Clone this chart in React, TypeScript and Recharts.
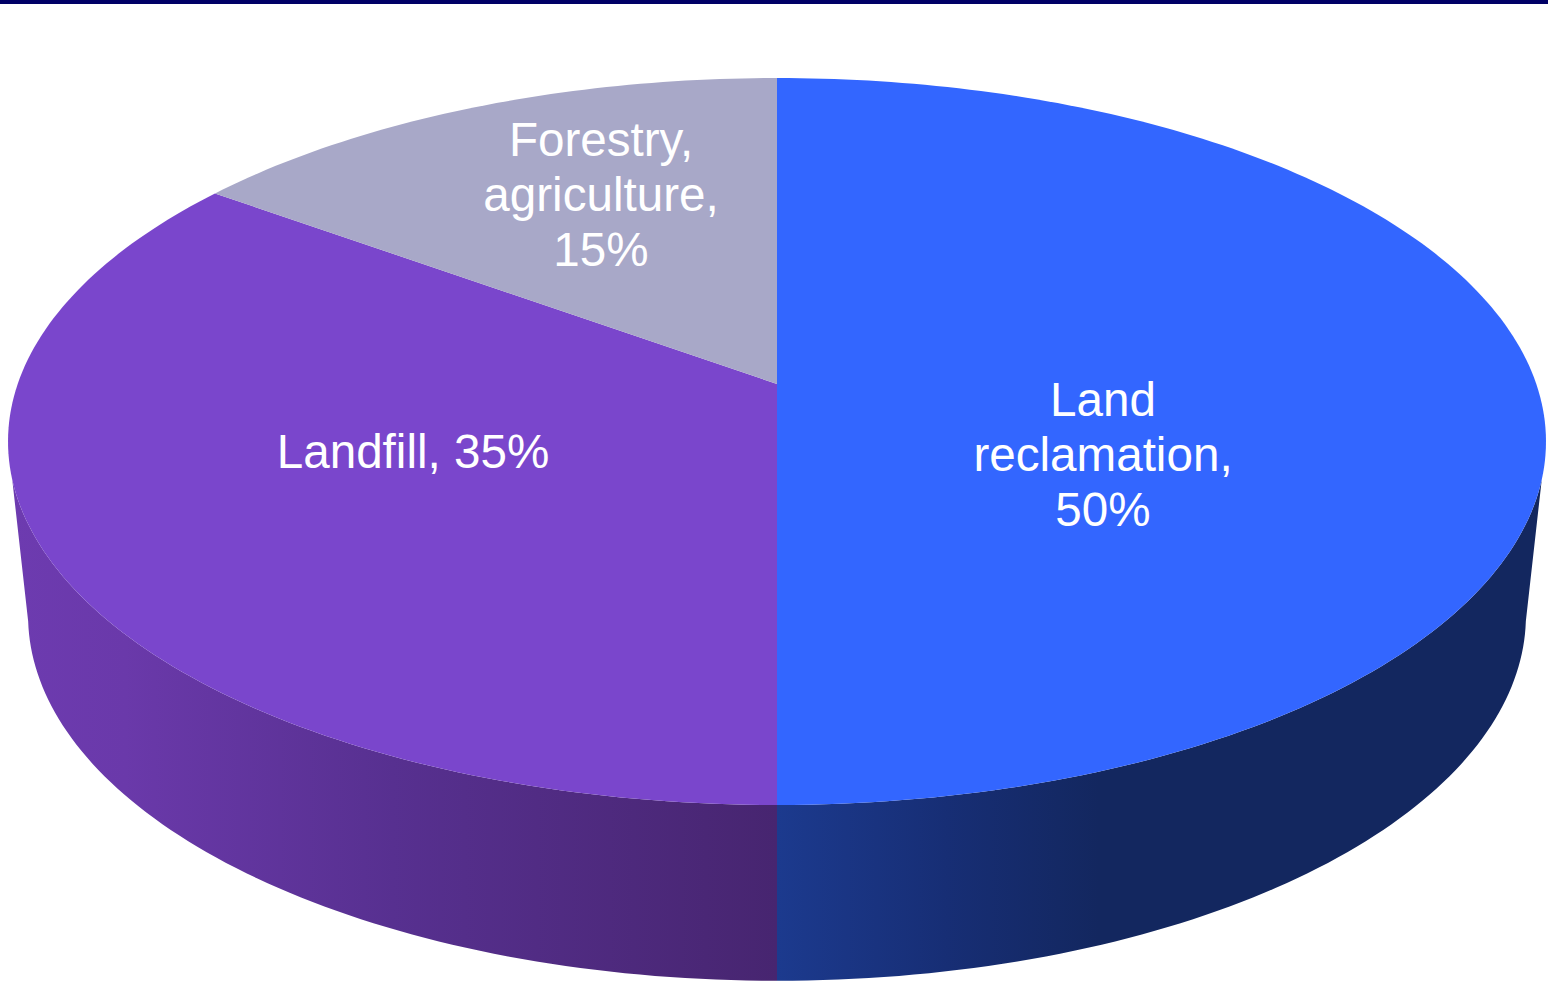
import { PieChart, Pie } from "recharts"

const categories = ["Land reclamation", "Landfill", "Forestry, agriculture"]
const shares = [50, 35, 15]
const labelLines = [["Land", "reclamation,", "50%"], ["Landfill, 35%"], ["Forestry,", "agriculture,", "15%"]]
const topColors = ["#3366ff", "#7a46cc", "#a8a8c8"]
const wallFills = ["url(#wallBlue)", "url(#wallPurple)", "none"]
const labelCenters = [1103, 413, 601]
const labelBaselines = [416, 468, 156]

const data = categories.map((name, i) => ({ name, value: shares[i], fill: topColors[i] }))

const WIDTH = 1548
const HEIGHT = 983
const LINE_HEIGHT = 55

// the pie is seen in perspective, so the circle is projected rather than just squashed
const TILT = 0.1582
const TOP_SQUASH = 0.4667
const BOTTOM = { cy: 557.6, radius: 739.5, squash: 0.4817 }
// where the side wall stops being visible, in degrees
const WALL_LEFT = -165
const WALL_RIGHT = -15

function project(cx: number, cy: number, r: number, squash: number, deg: number) {
  const a = (deg * Math.PI) / 180
  const w = 1 + TILT * Math.sin(a)
  return [cx + (r * Math.cos(a)) / w, cy - (r * squash * Math.sin(a)) / w]
}

function arcPoints(cx: number, cy: number, r: number, squash: number, from: number, to: number) {
  const steps = Math.max(2, Math.ceil(Math.abs(to - from)))
  const pts: string[] = []
  for (let i = 0; i <= steps; i++) {
    const [x, y] = project(cx, cy, r, squash, from + ((to - from) * i) / steps)
    pts.push(`${x.toFixed(2)} ${y.toFixed(2)}`)
  }
  return pts
}

function Slice(props: any) {
  const { cx, cy, outerRadius, startAngle, endAngle, fill, index } = props
  const top = arcPoints(cx, cy, outerRadius, TOP_SQUASH, startAngle, endAngle)
  const hi = Math.min(startAngle, WALL_RIGHT)
  const lo = Math.max(endAngle, WALL_LEFT)
  let wall = null
  if (hi > lo) {
    const upper = arcPoints(cx, cy, outerRadius, TOP_SQUASH, hi, lo)
    // the lower rim's tangent point sits a little closer to the horizontal
    const lowerHi = hi === WALL_RIGHT ? WALL_RIGHT + 5 : hi
    const lowerLo = lo === WALL_LEFT ? WALL_LEFT - 5 : lo
    const lower = arcPoints(cx, BOTTOM.cy, BOTTOM.radius, BOTTOM.squash, lowerLo, lowerHi)
    wall = <path d={`M${upper.join("L")}L${lower.join("L")}Z`} fill={wallFills[index]} />
  }
  return (
    <g>
      {wall}
      <path d={`M${cx} ${cy}L${top.join("L")}Z`} fill={fill} />
    </g>
  )
}

function SliceLabel(props: any) {
  const { index } = props
  return (
    <text
      x={labelCenters[index]}
      y={labelBaselines[index]}
      textAnchor="middle"
      fill="#ffffff"
      fontFamily="Liberation Sans, Arial, sans-serif"
      fontSize={47.6}
    >
      {labelLines[index].map((line, i) => (
        <tspan key={line} x={labelCenters[index]} dy={i === 0 ? 0 : LINE_HEIGHT}>
          {line}
        </tspan>
      ))}
    </text>
  )
}

export default function App() {
  return (
    <div style={{ position: "absolute", left: 0, top: 0, width: WIDTH, height: HEIGHT, background: "#fff" }}>
      <div style={{ position: "absolute", left: 0, top: 0, width: WIDTH, height: 4, background: "#000066" }} />
      <PieChart width={WIDTH} height={HEIGHT} margin={{ top: 0, right: 0, bottom: 0, left: 0 }}>
        <defs>
          <linearGradient id="wallPurple" gradientUnits="userSpaceOnUse" x1={10} y1={0} x2={777} y2={0}>
            <stop offset="0" stopColor="#6d3bb0" />
            <stop offset="0.15" stopColor="#6a39aa" />
            <stop offset="0.5" stopColor="#573090" />
            <stop offset="1" stopColor="#472570" />
          </linearGradient>
          <linearGradient id="wallBlue" gradientUnits="userSpaceOnUse" x1={777} y1={0} x2={1546} y2={0}>
            <stop offset="0" stopColor="#1c3a8e" />
            <stop offset="0.22" stopColor="#172e75" />
            <stop offset="0.42" stopColor="#13275f" />
            <stop offset="1" stopColor="#13275f" />
          </linearGradient>
        </defs>
        <Pie
          data={data}
          dataKey="value"
          nameKey="name"
          cx={777}
          cy={384}
          innerRadius={0}
          outerRadius={759.3}
          startAngle={90}
          endAngle={-270}
          stroke="none"
          shape={Slice}
          label={SliceLabel}
          labelLine={false}
          isAnimationActive={false}
        />
      </PieChart>
    </div>
  )
}
